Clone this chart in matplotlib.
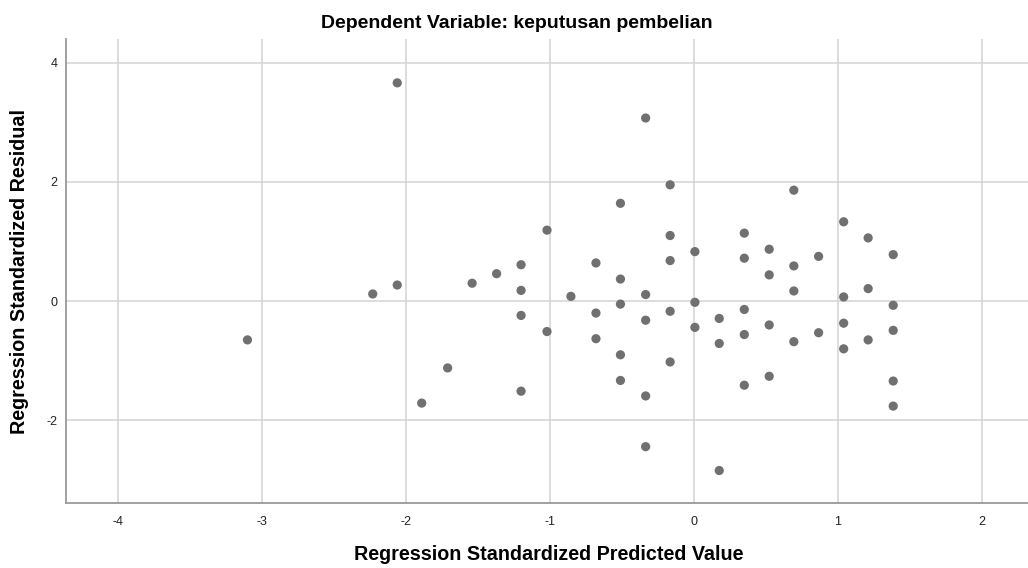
import matplotlib
matplotlib.use("Agg")
import matplotlib.pyplot as plt

predicted = [-3.10, -2.23, -2.06, -2.06, -1.89, -1.71, -1.54, -1.37,
             -1.20, -1.20, -1.20, -1.20,
             -1.02, -1.02, -0.854,
             -0.68, -0.68, -0.68,
             -0.51, -0.51, -0.51, -0.51, -0.51,
             -0.335, -0.335, -0.335, -0.335, -0.335,
             -0.165, -0.165, -0.165, -0.165, -0.165,
             0.007, 0.007, 0.007,
             0.176, 0.176, 0.176,
             0.35, 0.35, 0.35, 0.35, 0.35,
             0.523, 0.523, 0.523, 0.523,
             0.694, 0.694, 0.694, 0.694,
             0.866, 0.866,
             1.04, 1.04, 1.04, 1.04,
             1.21, 1.21, 1.21,
             1.384, 1.384, 1.384, 1.384, 1.384]
residual = [-0.65, 0.12, 3.66, 0.27, -1.71, -1.12, 0.30, 0.46,
            0.61, 0.18, -0.24, -1.51,
            1.19, -0.51, 0.08,
            0.64, -0.20, -0.63,
            1.64, 0.37, -0.05, -0.90, -1.33,
            3.07, 0.11, -0.32, -1.59, -2.44,
            1.95, 1.10, 0.68, -0.17, -1.02,
            0.83, -0.02, -0.44,
            -0.29, -0.71, -2.84,
            1.14, 0.72, -0.14, -0.56, -1.41,
            0.87, 0.44, -0.40, -1.26,
            1.86, 0.59, 0.17, -0.68,
            0.75, -0.53,
            1.33, 0.07, -0.37, -0.80,
            1.06, 0.21, -0.65,
            0.78, -0.07, -0.49, -1.34, -1.76]

x_ticks = [-4, -3, -2, -1, 0, 1, 2]
y_ticks = [-2, 0, 2, 4]

title = "Dependent Variable: keputusan pembelian"
x_label = "Regression Standardized Predicted Value"
y_label = "Regression Standardized Residual"

plt.rcParams['font.family'] = ['Liberation Sans', 'DejaVu Sans']

fig = plt.figure(figsize=(10.28, 5.68), dpi=100)
ax = fig.add_axes([66/1028, 1 - 503.3/568, 1 - 66/1028, (503.3 - 39.3)/568])

ax.scatter(predicted, residual, s=44, color='#707070', edgecolors='none', zorder=3)

ax.set_xlim(-4.36, 2.32)
ax.set_ylim(-3.39, 4.39)
ax.set_xticks(x_ticks)
ax.set_yticks(y_ticks)
ax.set_xticklabels([str(t) for t in x_ticks], fontsize=9, color='#222222')
ax.set_yticklabels([str(t) for t in y_ticks], fontsize=9, color='#222222')
ax.tick_params(axis='x', length=0, pad=9)
ax.tick_params(axis='y', length=0, pad=6)

ax.grid(True, color='#d3d3d3', linewidth=1.1, zorder=0)
ax.set_axisbelow(True)
for side in ['top', 'right']:
    ax.spines[side].set_visible(False)
for side in ['left', 'bottom']:
    ax.spines[side].set_color('#9a9a9a')
    ax.spines[side].set_linewidth(1.3)

fig.text(517/1028, 1 - 23/568, title, ha='center', va='center', fontsize=14, fontweight='bold')
fig.text(549/1028, 1 - 555/568, x_label, ha='center', va='center', fontsize=14.2, fontweight='bold')
fig.text(20/1028, 1 - 271/568, y_label, ha='center', va='center', rotation=90, fontsize=14.2, fontweight='bold')

fig.savefig("out.png", dpi=100)
